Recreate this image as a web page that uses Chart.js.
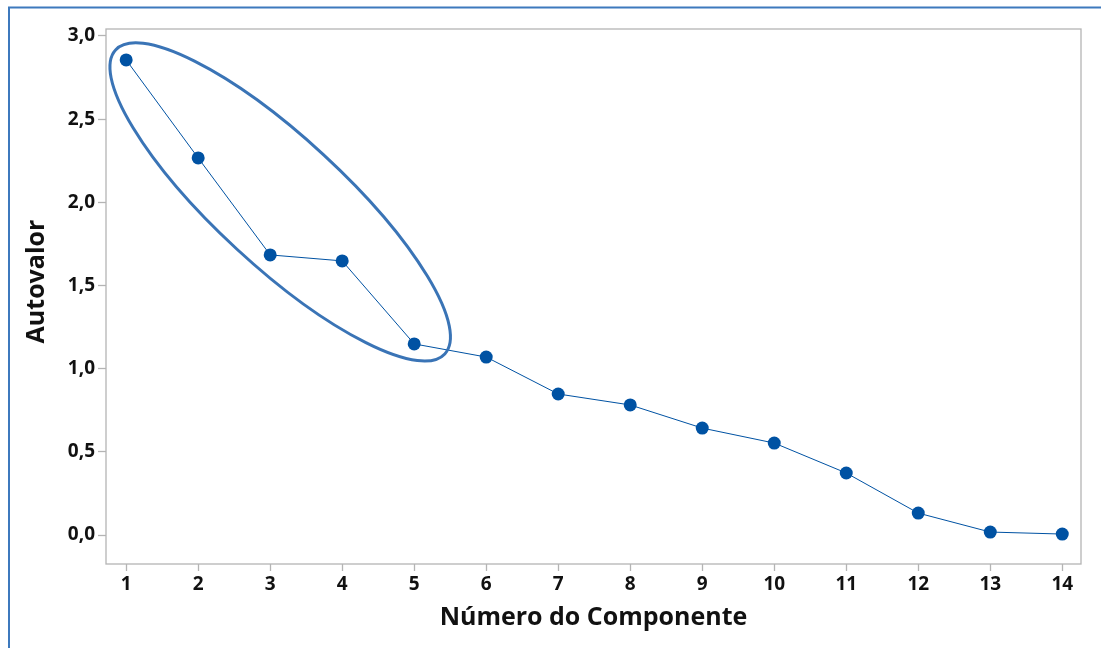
<!DOCTYPE html>
<html>
<head>
<meta charset="utf-8">
<script src="https://cdn.jsdelivr.net/npm/chart.js@4.4.0/dist/chart.umd.min.js"></script>
<style>
  html, body { margin: 0; padding: 0; background: #fff; }
  #wrap { width: 1101px; height: 648px; position: relative; }
</style>
</head>
<body>
<div id="wrap"><canvas id="c" width="1101" height="648"></canvas></div>
<script>
const components = [1, 2, 3, 4, 5, 6, 7, 8, 9, 10, 11, 12, 13, 14];
const eigenvalues = [2.856, 2.267, 1.684, 1.648, 1.149, 1.070, 0.848, 0.782, 0.643, 0.553, 0.373, 0.132, 0.018, 0.006];
const yTicks = [0, 0.5, 1, 1.5, 2, 2.5, 3];
const xTicks = components;
const xTitle = 'Número do Componente';
const yTitle = 'Autovalor';

// highlight ellipse (data coordinates of major-axis ends, minor/major ratio)
const ellipse = { x1: 0.853, y1: 2.916, x2: 5.425, y2: 1.089, ratio: 0.286 };

const FONT = '"Open Sans", "Noto Sans", sans-serif';
const AXIS = '#b4b4b4';
const POINT = '#0052a3';

const framePlugin = {
  id: 'frame',
  beforeDraw(chart) {
    const ctx = chart.ctx;
    ctx.save();
    ctx.fillStyle = '#fff';
    ctx.fillRect(0, 0, chart.width, chart.height);
    ctx.strokeStyle = '#3d79bd';
    ctx.lineWidth = 2;
    ctx.beginPath();
    ctx.moveTo(9, chart.height);
    ctx.lineTo(9, 7.5);
    ctx.lineTo(chart.width, 7.5);
    ctx.stroke();
    const a = chart.chartArea;
    ctx.strokeStyle = AXIS;
    ctx.lineWidth = 1.3;
    ctx.strokeRect(a.left, a.top, a.right - a.left, a.bottom - a.top);
    ctx.restore();
  },
  afterDatasetsDraw(chart) {
    const xs = chart.scales.x, ys = chart.scales.y;
    const px1 = xs.getPixelForValue(ellipse.x1), py1 = ys.getPixelForValue(ellipse.y1);
    const px2 = xs.getPixelForValue(ellipse.x2), py2 = ys.getPixelForValue(ellipse.y2);
    const cx = (px1 + px2) / 2, cy = (py1 + py2) / 2;
    const a = Math.hypot(px2 - px1, py2 - py1) / 2;
    const rot = Math.atan2(py2 - py1, px2 - px1);
    const ctx = chart.ctx;
    ctx.save();
    ctx.strokeStyle = '#3a74b6';
    ctx.lineWidth = 3;
    ctx.beginPath();
    ctx.ellipse(cx, cy, a, a * ellipse.ratio, rot, 0, Math.PI * 2);
    ctx.stroke();
    // y axis title (slightly above the plot centre, as in the original)
    const ca = chart.chartArea;
    ctx.translate(37, (ca.top + ca.bottom) / 2 - 15);
    ctx.rotate(-Math.PI / 2);
    ctx.fillStyle = '#111';
    ctx.font = 'bold 25px ' + FONT;
    ctx.textAlign = 'center';
    ctx.textBaseline = 'middle';
    ctx.fillText(yTitle, 0, 0);
    ctx.restore();
  }
};

new Chart(document.getElementById('c'), {
  type: 'scatter',
  data: {
    datasets: [{
      data: components.map((c, i) => ({ x: c, y: eigenvalues[i] })),
      showLine: true,
      borderColor: POINT,
      borderWidth: 1,
      backgroundColor: POINT,
      pointRadius: 6.5,
      pointHoverRadius: 6.5,
      pointBorderWidth: 0,
      tension: 0
    }]
  },
  options: {
    responsive: false,
    animation: false,
    events: [],
    layout: { padding: { top: 29, right: 20, left: 0, bottom: 0 } },
    plugins: { legend: { display: false }, tooltip: { enabled: false } },
    scales: {
      x: {
        type: 'linear',
        min: 0.72, max: 14.26,
        afterBuildTicks(s) { s.ticks = xTicks.map(v => ({ value: v })); },
        afterFit(s) { s.height = 84; },
        grid: { drawOnChartArea: false, color: AXIS, tickLength: 7, tickWidth: 1.3 },
        border: { display: false },
        ticks: {
          color: '#111', padding: 2,
          font: { family: FONT, size: 19, weight: 'bold' },
          callback: v => String(v)
        },
        title: {
          display: true, text: xTitle, color: '#111',
          font: { family: FONT, size: 25, weight: 'bold' },
          padding: { top: 4, bottom: 15 }
        }
      },
      y: {
        type: 'linear',
        min: -0.174, max: 3.042,
        afterBuildTicks(s) { s.ticks = yTicks.map(v => ({ value: v })); },
        afterFit(s) { s.width = 106; },
        grid: { drawOnChartArea: false, color: AXIS, tickLength: 8, tickWidth: 1.3 },
        border: { display: false },
        ticks: {
          color: '#111', padding: 3,
          font: { family: FONT, size: 19, weight: 'bold' },
          callback: v => v.toFixed(1).replace('.', ',')
        },
        title: { display: false }
      }
    }
  },
  plugins: [framePlugin]
});
</script>
</body>
</html>
